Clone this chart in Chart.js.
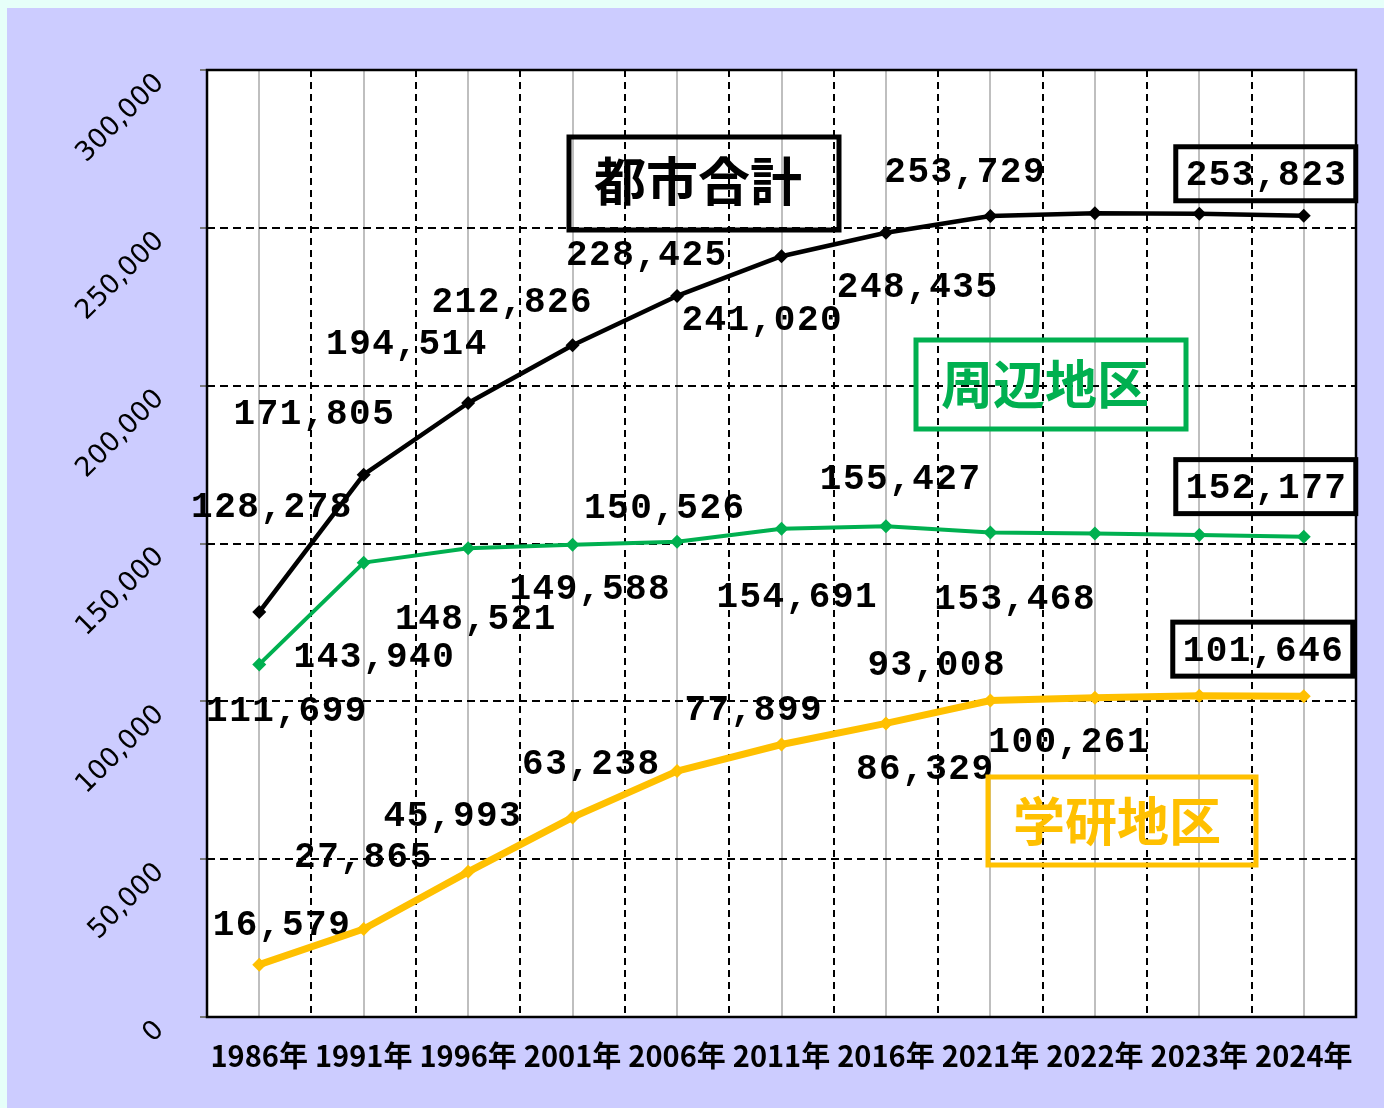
<!DOCTYPE html>
<html><head><meta charset="utf-8">
<script src="https://cdn.jsdelivr.net/npm/chart.js@4/dist/chart.umd.min.js"></script>
<style>
html,body{margin:0;padding:0;background:#E6FFF9;width:1384px;height:1108px;overflow:hidden;}
#wrap{position:absolute;left:7px;top:8px;width:1377px;height:1100px;background:#CCCCFF;}
canvas{display:block}
</style></head><body><div id="wrap"><canvas id="c" width="1377" height="1100"></canvas></div>
<script>
// ---- data ----
const categories = ['1986年','1991年','1996年','2001年','2006年','2011年','2016年','2021年','2022年','2023年','2024年'];
const seriesNames = ['都市合計','周辺地区','学研地区'];
const totalValues  = [128278,171805,194514,212826,228425,241020,248435,253729,254600,254500,253823];
const shuhenValues = [111699,143940,148521,149588,150526,154691,155427,153468,153200,152700,152177];
const gakkenValues = [16579,27865,45993,63238,77899,86329,93008,100261,101100,101800,101646];
const yTicks = [0,50000,100000,150000,200000,250000,300000];
const labeledIndex = [0,1,2,3,4,5,6,7,10];
const boxedIndex = 10;

// ---- styles / positions ----
const seriesColors = ['#000000','#00B050','#FFC000'];
const seriesWidths = [4.5,4,7];
const labelOffsets = [
  [[12,-107],[-50,-62],[-62,-60],[-61,-45],[-31,-42],[-20,62],[31,53],[-26,-46],null,null,[-38,-42]],
  [[27,45],[10,93],[7,69],[17,43],[-13,-35],[15,67],[14,-49],[24,65],null,null,[-38,-50]],
  [[22,-41],[-1,-74],[-16,-57],[18,-55],[76,-63],[143,23],[50,-60],[78,40],null,null,[-41,-47]]
];
// legend boxes relative to chart area (left, top, width, height, text cx, text cy)
const legendBoxes = [
  {rect:[362,67,270,93], text:[491,112], color:'#000000'},
  {rect:[709,270,270,89], text:[838,315], color:'#00B050'},
  {rect:[781,707,268,88], text:[910,752], color:'#FFC000'}
];

const fmt = v => v.toLocaleString('en-US');

const decor = {
  id:'decor',
  beforeDraw(chart){
    const {ctx, chartArea:a} = chart;
    ctx.save(); ctx.fillStyle='#FFFFFF';
    ctx.fillRect(a.left,a.top,a.right-a.left,a.bottom-a.top);
    ctx.restore();
  },
  beforeDatasetsDraw(chart){
    const {ctx, chartArea:a} = chart;
    ctx.save();
    ctx.font = 'bold 36px "Liberation Mono"';
    ctx.letterSpacing = '1.5px';
    ctx.textAlign = 'center';
    ctx.textBaseline = 'alphabetic';
    ctx.fillStyle = '#000';
    chart.data.datasets.forEach((ds, di) => {
      const meta = chart.getDatasetMeta(di);
      labeledIndex.forEach(i => {
        const off = labelOffsets[di][i];
        if (!off) return;
        const pt = meta.data[i];
        const cx = pt.x + off[0], cy = pt.y + off[1];
        ctx.fillText(fmt(ds.data[i]), cx + 0.75, cy + 11.5);
        if (i === boxedIndex) {
          ctx.lineWidth = 5; ctx.strokeStyle = '#000';
          ctx.strokeRect(cx - 90, cy - 27, 180, 54);
        }
      });
    });
    ctx.letterSpacing = '0px';
    ctx.font = 'bold 52px "Noto Sans CJK JP"';
    legendBoxes.forEach((b, k) => {
      ctx.lineWidth = 5; ctx.strokeStyle = b.color;
      ctx.strokeRect(a.left + b.rect[0], a.top + b.rect[1], b.rect[2], b.rect[3]);
      ctx.fillStyle = b.color;
      ctx.fillText(seriesNames[k], a.left + b.text[0], a.top + b.text[1] + 19);
    });
    ctx.restore();
  },
  afterDraw(chart){
    const {ctx, chartArea:a} = chart;
    ctx.save(); ctx.strokeStyle='#000'; ctx.lineWidth=2.5;
    ctx.strokeRect(a.left,a.top,a.right-a.left,a.bottom-a.top);
    ctx.restore();
  }
};

function mk(i, data){
  return {
    label: seriesNames[i], data,
    borderColor: seriesColors[i], backgroundColor: seriesColors[i],
    borderWidth: seriesWidths[i], tension: 0,
    borderJoinStyle:'round', borderCapStyle:'round',
    pointStyle:'rectRot', pointRadius: 7, pointBorderWidth: 0,
    pointBackgroundColor: seriesColors[i]
  };
}

new Chart(document.getElementById('c'), {
  type:'line',
  data:{ labels: categories, datasets:[ mk(0,totalValues), mk(1,shuhenValues), mk(2,gakkenValues) ] },
  options:{
    responsive:false, animation:false, devicePixelRatio:1,
    layout:{padding:{top:62,right:28,left:0,bottom:0}},
    plugins:{legend:{display:false}, tooltip:{enabled:false}},
    scales:{
      x2:{type:'category', labels:categories, offset:true, position:'bottom',
          grid:{offset:false, color:'#BFBFBF', lineWidth:2, drawTicks:false},
          border:{display:false}, ticks:{display:false},
          afterFit: s => { s.height = 0; }},
      x:{type:'category', offset:true, position:'bottom',
         grid:{offset:true, color:'#000', lineWidth:2, drawTicks:false},
         border:{display:false, dash:[7,5]},
         ticks:{color:'#000', font:{family:'"Noto Sans CJK JP"', size:29, weight:'bold'}, padding:22, autoSkip:false, maxRotation:0, minRotation:0},
         afterFit: s => { s.height = 91; }},
      y:{min:0, max:300000,
         afterBuildTicks: s => { s.ticks = yTicks.map(v => ({value:v})); },
         ticks:{minRotation:45, maxRotation:45, padding:40, labelOffset:9, color:'#000',
                font:{family:'"DejaVu Sans"', size:27}, callback: v => fmt(v)},
         grid:{color:'#000', lineWidth:2, tickLength:7, tickColor:'#777', tickWidth:2, tickBorderDash:[]},
         border:{display:false, dash:[8,5]},
         afterFit: s => { s.width = 200; }}
    }
  },
  plugins:[decor]
});
</script></body></html>
